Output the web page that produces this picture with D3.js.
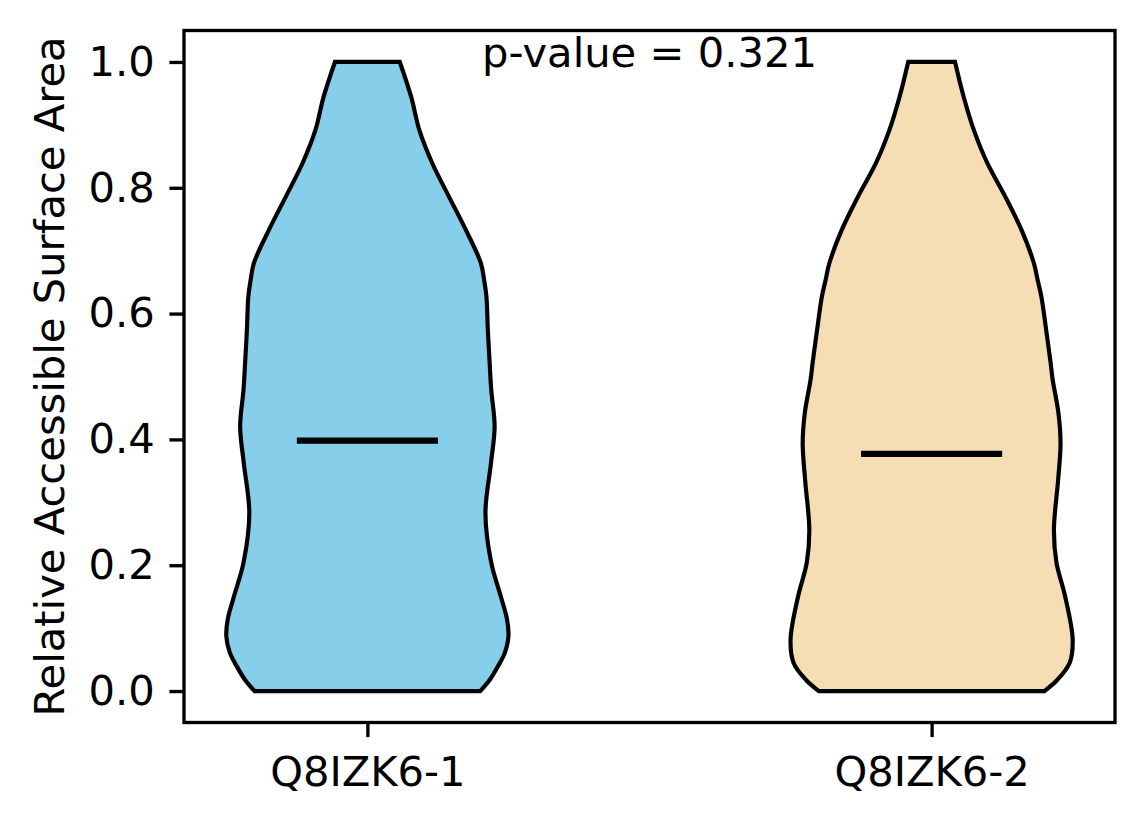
<!DOCTYPE html>
<html>
<head>
<meta charset="utf-8">
<script src="https://cdn.jsdelivr.net/npm/d3@7"></script>
<style>
  body { margin: 0; background: #fff; }
  text { font-family: "DejaVu Sans", sans-serif; }
</style>
</head>
<body>
<div id="chart"></div>
<script>
// groups and their violin profiles (RSA level -> relative density, 1 = widest)
const groups = ["Q8IZK6-1", "Q8IZK6-2"];
const colors = ["#87CEEB", "#F5DEB3"];

const rsaLevels1 = [0, 0.018, 0.039, 0.061, 0.087, 0.114, 0.151, 0.204, 0.283, 0.362, 0.420, 0.479, 0.521, 0.574, 0.627, 0.653, 0.680, 0.733, 0.786, 0.839, 0.892, 0.944, 1.0];
const density1   = [0.800, 0.868, 0.925, 0.975, 1.000, 0.990, 0.945, 0.878, 0.837, 0.876, 0.902, 0.878, 0.867, 0.854, 0.844, 0.828, 0.805, 0.698, 0.578, 0.460, 0.368, 0.311, 0.230];

const rsaLevels2 = [0, 0.018, 0.045, 0.082, 0.151, 0.204, 0.256, 0.336, 0.394, 0.442, 0.495, 0.521, 0.574, 0.627, 0.653, 0.680, 0.733, 0.786, 0.839, 0.892, 0.944, 1.0];
const density2   = [0.800, 0.892, 0.979, 1.000, 0.946, 0.885, 0.867, 0.897, 0.914, 0.899, 0.858, 0.844, 0.812, 0.778, 0.752, 0.725, 0.637, 0.522, 0.395, 0.299, 0.228, 0.166];

const means = [0.398, 0.377];
const yTicks = [0, 0.2, 0.4, 0.6, 0.8, 1.0];
const pValueLabel = "p-value = 0.321";

const W = 1144, H = 824;
const margin = {left: 184, right: 29, top: 30.5, bottom: 101.5};
const fs = 41.67;       // 10pt @ 300dpi
const pt = 300 / 72;

const svg = d3.select("#chart").append("svg")
    .attr("width", W).attr("height", H);
svg.append("rect").attr("width", W).attr("height", H).attr("fill", "#fff");

const x = d3.scaleLinear().domain([0.675, 2.325]).range([margin.left, W - margin.right]);
const y = d3.scaleLinear().domain([-0.05, 1.05]).range([H - margin.bottom, margin.top]);

const halfW = 0.25; // violin half width in x units

const profiles = [
    rsaLevels1.map((v, i) => ({v: v, d: density1[i]})),
    rsaLevels2.map((v, i) => ({v: v, d: density2[i]}))
];

profiles.forEach((prof, gi) => {
    const cx = gi + 1;
    const area = d3.area()
        .y(d => y(d.v))
        .x0(d => x(cx - halfW * d.d))
        .x1(d => x(cx + halfW * d.d))
        .curve(d3.curveCatmullRom.alpha(0.5));
    svg.append("path")
        .datum(prof)
        .attr("d", area)
        .attr("fill", colors[gi])
        .attr("stroke", "#000")
        .attr("stroke-width", 1 * pt)
        .attr("stroke-linejoin", "miter");
});

// mean lines
svg.selectAll(".mean").data(means).join("line")
    .attr("class", "mean")
    .attr("x1", (d, i) => x(i + 1 - halfW / 2))
    .attr("x2", (d, i) => x(i + 1 + halfW / 2))
    .attr("y1", d => y(d)).attr("y2", d => y(d))
    .attr("stroke", "#000")
    .attr("stroke-width", 1.5 * pt);

// axes
const yAxis = d3.axisLeft(y).tickValues(yTicks).tickFormat(d3.format(".1f"))
    .tickSize(3.5 * pt).tickPadding(3.5 * pt);
const gy = svg.append("g").attr("transform", `translate(${margin.left},0)`).call(yAxis);

const xAxis = d3.axisBottom(x).tickValues([1, 2]).tickFormat((d, i) => groups[i])
    .tickSize(3.5 * pt).tickPadding(3.5 * pt);
const gx = svg.append("g").attr("transform", `translate(0,${H - margin.bottom})`).call(xAxis);

[gx, gy].forEach(g => {
    g.select(".domain").remove();
    g.selectAll(".tick line").attr("stroke", "#000").attr("stroke-width", 0.8 * pt);
    g.selectAll(".tick text").attr("fill", "#000")
        .style("font-size", fs + "px").style("font-family", "DejaVu Sans");
});
gx.selectAll(".tick text").attr("dy", null).attr("y", null)
    .attr("transform", "translate(0,63)");

// frame
svg.append("rect")
    .attr("x", margin.left).attr("y", margin.top)
    .attr("width", W - margin.left - margin.right)
    .attr("height", H - margin.top - margin.bottom)
    .attr("fill", "none").attr("stroke", "#000").attr("stroke-width", 0.8 * pt);

// y label
svg.append("text")
    .attr("transform", `translate(63.5,${(margin.top + H - margin.bottom) / 2}) rotate(-90)`)
    .attr("text-anchor", "middle")
    .style("font-size", fs + "px")
    .text("Relative Accessible Surface Area");

// p-value
svg.append("text")
    .attr("x", (margin.left + W - margin.right) / 2)
    .attr("y", 67)
    .attr("text-anchor", "middle")
    .style("font-size", fs + "px")
    .text(pValueLabel);
</script>
</body>
</html>
